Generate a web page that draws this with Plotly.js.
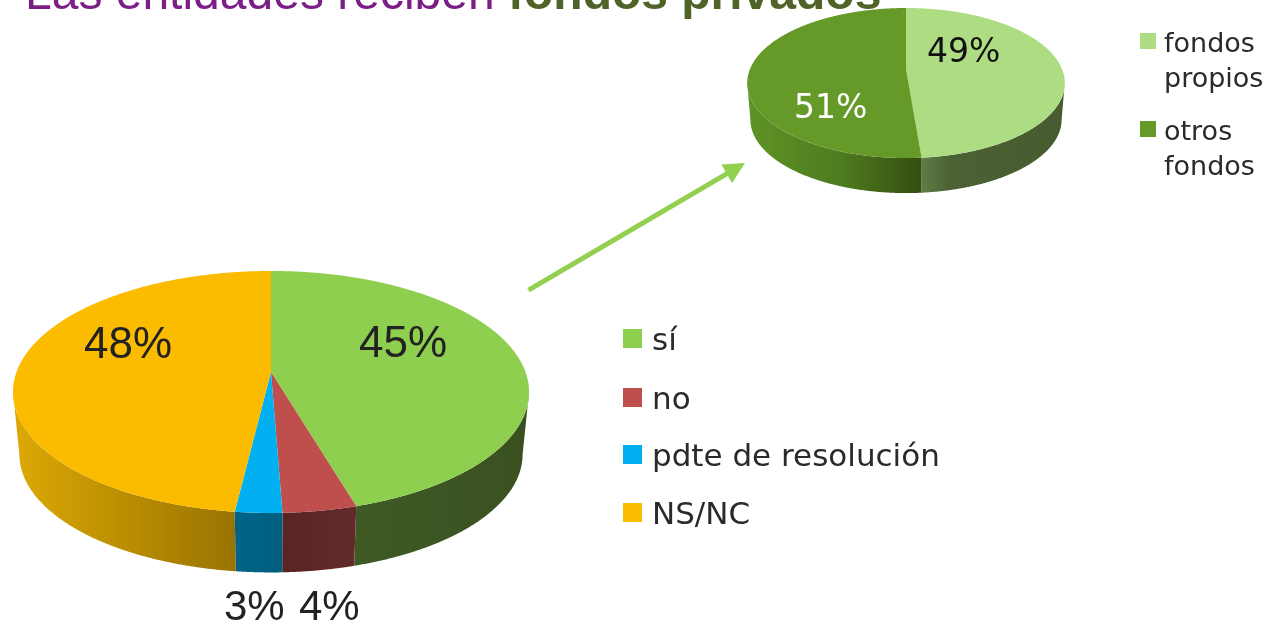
<!DOCTYPE html>
<html>
<head>
<meta charset="utf-8">
<script src="https://cdn.plot.ly/plotly-3.0.1.min.js"></script>
<style>html,body{margin:0;padding:0;background:#fff;overflow:hidden}#chart{width:1268px;height:626px;filter:blur(0.5px)}</style>
</head>
<body>
<div id="chart"></div>
<script>
// Data
const mainCategories = ['sí', 'no', 'pdte de resolución', 'NS/NC'];
const mainValues = [45.45, 3.95, 2.5, 48.1];
const mainColors = ['#8FCF4F', '#BE4F4D', '#00B0F0', '#FBBC00'];
const mainWalls = [
  [[0, '#3F5A24'], [1, '#3A5020']],
  [[0, '#5A2424'], [1, '#632A2A']],
  [[0, '#006488'], [1, '#005F80']],
  [[0, '#DDA905'], [1, '#987300']]
];
const subCategories = ['fondos propios', 'otros fondos'];
const subLegendText = ['fondos<br>propios', 'otros<br>fondos'];
const subValues = [48.7, 51.3];
const subColors = ['#AEDC82', '#659A28'];
const subWalls = [
  [[0, '#607C45'], [0.2, '#4C6235'], [1, '#465C30']],
  [[0, '#5F9426'], [0.55, '#4E7A1E'], [1, '#344E0E']]
];
const titleRegular = 'Las entidades reciben ';
const titleBold = 'fondos privados';

// Geometry of each pie: perspective disc projected on the page
const mainPie = {cx: 271, apex: 372, R: 254.5, A: 117.7, c: -0.165, dy: 63, k: 0.975};
const subPie = {cx: 906, apex: 69, R: 156, A: 72.4, c: -0.187, dy: 36.8, k: 0.98};
const mainLabelPos = [[403, 341, '#222', 44], [329, 605, '#222', 42], [254, 605, '#222', 42], [128, 342, '#222', 44]];
const subLabelPos = [[963, 50, '#111'], [830, 106, '#fff']];

function rim(p, deg) {
  const t = deg * Math.PI / 180, u = Math.sin(t), v = -Math.cos(t), d = 1 + p.c * v;
  return [p.cx + p.R * u / d, p.apex + p.A * v / d];
}
function floor(p, q) {
  return [p.cx + p.k * (q[0] - p.cx), p.apex + p.dy + p.k * (q[1] - p.apex)];
}
function arc(a, b) {
  const out = [], n = Math.max(4, Math.ceil((b - a) * 4));
  for (let i = 0; i <= n; i++) out.push(a + (b - a) * i / n);
  return out;
}
function pieTraces(p, cats, vals, colors, walls) {
  const total = vals.reduce((s, v) => s + v, 0), wallsOut = [], tops = [];
  // the visible wall runs between the two widest points of the disc
  const side = Math.acos(p.c) * 180 / Math.PI;
  let acc = 0;
  vals.forEach((val, i) => {
    const a = acc / total * 360, b = (acc + val) / total * 360;
    acc += val;
    const lo = Math.max(a, side), hi = Math.min(b, 360 - side);
    if (hi > lo) {
      const up = arc(lo, hi).map(d => rim(p, d));
      const down = up.map(q => floor(p, q)).reverse();
      const pts = up.concat(down);
      pts.push(pts[0]);
      wallsOut.push({
        type: 'scatter', mode: 'lines', name: cats[i], showlegend: false, hoverinfo: 'skip',
        x: pts.map(q => q[0]), y: pts.map(q => q[1]),
        line: {width: 0, simplify: false}, fill: 'toself', fillcolor: walls[i][0][1],
        fillgradient: {type: 'horizontal', colorscale: walls[i]}
      });
    }
    const edge = arc(a, b).map(d => rim(p, d));
    const pts = [[p.cx, p.apex]].concat(edge, [[p.cx, p.apex]]);
    tops.push({
      type: 'scatter', mode: 'lines', name: cats[i], showlegend: false, hoverinfo: 'name',
      x: pts.map(q => q[0]), y: pts.map(q => q[1]),
      line: {width: 0, simplify: false}, fill: 'toself', fillcolor: colors[i]
    });
  });
  return wallsOut.concat(tops);
}

const traces = pieTraces(mainPie, mainCategories, mainValues, mainColors, mainWalls)
  .concat(pieTraces(subPie, subCategories, subValues, subColors, subWalls));

const annotations = [];
const shapes = [];
const SANS = 'Liberation Sans, Arial, sans-serif';
const LEG = 'DejaVu Sans, Verdana, sans-serif';

// Title, cut by the top of the page
annotations.push({
  xref: 'x', yref: 'y', x: 23, y: 21, xanchor: 'left', yanchor: 'bottom', showarrow: false,
  text: '<span style="color:#7B1F87">' + titleRegular + '</span><b><span style="color:#4F6228">' + titleBold + '</span></b>',
  font: {family: SANS, size: 48}
});

// Percent labels
mainValues.forEach((v, i) => annotations.push({
  xref: 'x', yref: 'y', x: mainLabelPos[i][0], y: mainLabelPos[i][1], showarrow: false,
  text: Math.round(v) + '%', font: {family: SANS, size: mainLabelPos[i][3], color: mainLabelPos[i][2]}
}));
subValues.forEach((v, i) => annotations.push({
  xref: 'x', yref: 'y', x: subLabelPos[i][0], y: subLabelPos[i][1], showarrow: false,
  text: Math.round(v) + '%', font: {family: LEG, size: 33, color: subLabelPos[i][2]}
}));

// Legends
const mainLegendY = [339, 398, 455, 513];
mainCategories.forEach((c, i) => {
  const y = mainLegendY[i];
  shapes.push({type: 'rect', xref: 'x', yref: 'y', x0: 623, x1: 642, y0: y - 10, y1: y + 9, fillcolor: mainColors[i], line: {width: 0}});
  annotations.push({xref: 'x', yref: 'y', x: 650, y: y, xanchor: 'left', showarrow: false, text: c,
    font: {family: LEG, size: 31, color: '#2A2A2A'}});
});
const subLegendY = [60, 148];
subLegendText.forEach((c, i) => {
  const y = subLegendY[i];
  shapes.push({type: 'rect', xref: 'x', yref: 'y', x0: 1140, x1: 1156, y0: y - 27, y1: y - 11, fillcolor: subColors[i], line: {width: 0}});
  annotations.push({xref: 'x', yref: 'y', x: 1162, y: y, xanchor: 'left', align: 'left', showarrow: false, text: c,
    font: {family: LEG, size: 27, color: '#2A2A2A'}});
});

// Arrow linking the "sí" slice to the detail pie
annotations.push({
  xref: 'x', yref: 'y', axref: 'x', ayref: 'y', x: 745, y: 163, ax: 527, ay: 291, text: '',
  showarrow: true, arrowhead: 2, arrowsize: 0.85, arrowwidth: 5, arrowcolor: '#92D050'
});

const layout = {
  width: 1268, height: 626, margin: {l: 0, r: 0, t: 0, b: 0},
  paper_bgcolor: '#fff', plot_bgcolor: '#fff', showlegend: false, hovermode: 'closest',
  xaxis: {range: [0, 1268], visible: false, fixedrange: true},
  yaxis: {range: [626, 0], visible: false, fixedrange: true},
  annotations: annotations, shapes: shapes
};
Plotly.newPlot('chart', traces, layout, {displayModeBar: false, responsive: false});
</script>
</body>
</html>
